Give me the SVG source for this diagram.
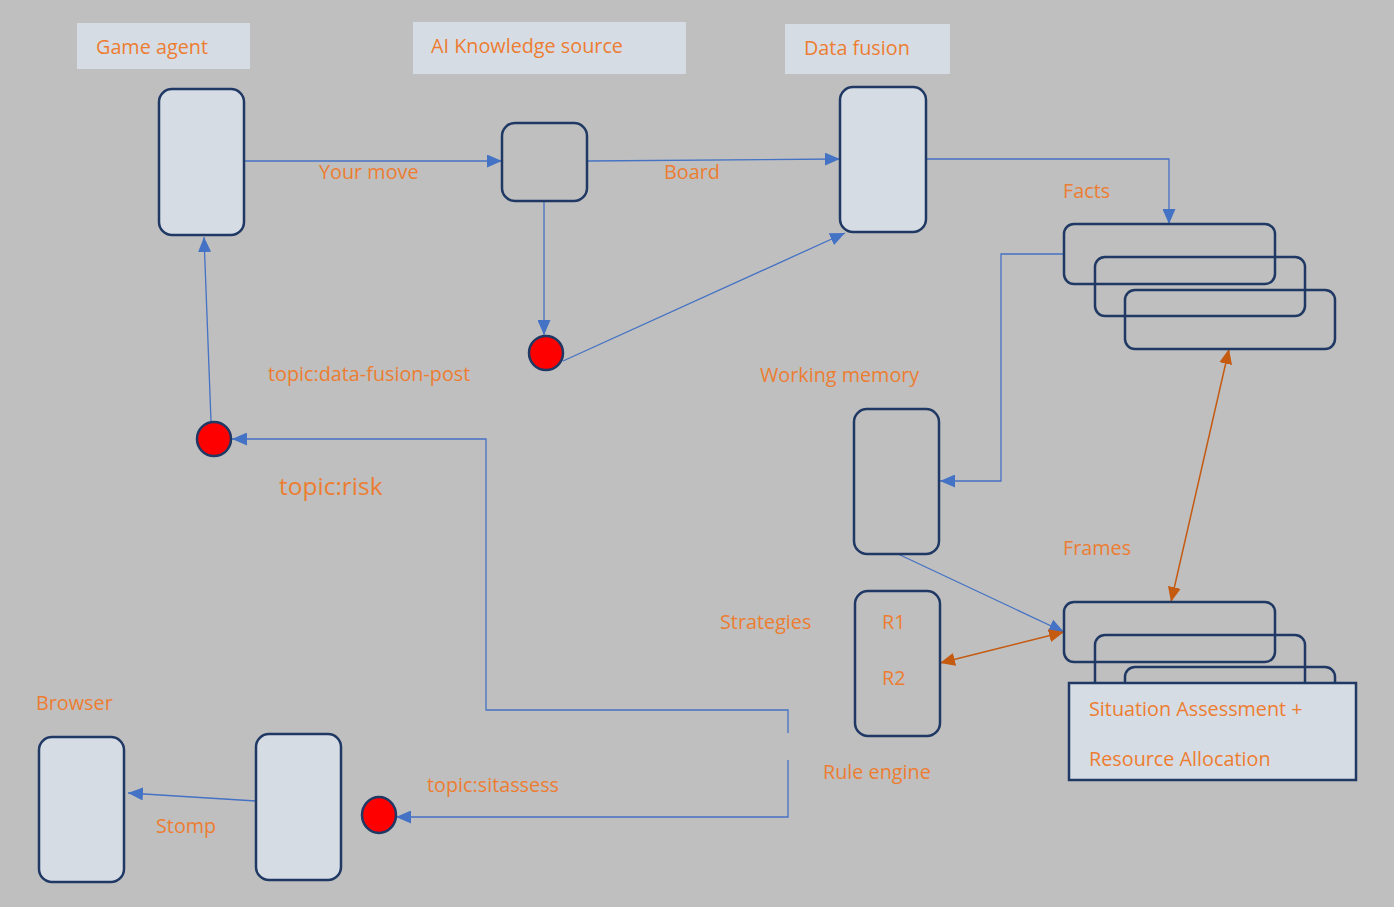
<svg xmlns="http://www.w3.org/2000/svg" width="1394" height="907" viewBox="0 0 1394 907">
<defs>
<style>
.bg{fill:#bfbfbf}
.lbl{fill:#d6dce4}
.node{stroke:#1f3864;stroke-width:2.5;fill:#d6dce4}
.open{stroke:#1f3864;stroke-width:2.5;fill:none}
.dot{stroke:#1f3864;stroke-width:2.5;fill:#ff0000}
.t{font-family:"Open Sans","Noto Sans",sans-serif;font-size:19.8px;fill:#ed7d31}
.c{stroke:#4472c4;stroke-width:1.3;fill:none}
.o{stroke:#c55a11;stroke-width:1.5;fill:none}
</style>
<marker id="ab" viewBox="0 0 15 13" refX="15" refY="6.5" markerWidth="15" markerHeight="13" markerUnits="userSpaceOnUse" orient="auto"><path d="M0,0L15,6.5L0,13z" fill="#4472c4"/></marker>
<marker id="ao" viewBox="0 0 15 13" refX="15" refY="6.5" markerWidth="15" markerHeight="13" markerUnits="userSpaceOnUse" orient="auto-start-reverse"><path d="M0,0L15,6.5L0,13z" fill="#c55a11"/></marker>
</defs>
<rect class="bg" x="0" y="0" width="1394" height="907"/>

<g id="connectors">
<path class="c" d="M244,161H502" marker-end="url(#ab)"/>
<path class="c" d="M587,161L840,159" marker-end="url(#ab)"/>
<path class="c" d="M926,159H1169V224" marker-end="url(#ab)"/>
<path class="c" d="M1064,254H1001V481H940" marker-end="url(#ab)"/>
<path class="c" d="M544,201V335" marker-end="url(#ab)"/>
<path class="c" d="M563,361L845,233" marker-end="url(#ab)"/>
<path class="c" d="M211,421L204,237" marker-end="url(#ab)"/>
<path class="c" d="M898,554L1064,632" marker-end="url(#ab)"/>
<path class="c" d="M788,733V710H486V439H232" marker-end="url(#ab)"/>
<path class="c" d="M788,760V817H396" marker-end="url(#ab)"/>
<path class="c" d="M256,801L128,793" marker-end="url(#ab)"/>
<path class="o" d="M940,663L1064,632" marker-start="url(#ao)" marker-end="url(#ao)"/>
<path class="o" d="M1229,349L1171,602" marker-start="url(#ao)" marker-end="url(#ao)"/>
</g>

<g id="game-agent-label"><rect class="lbl" x="77" y="23" width="173" height="46"/><text class="t" x="96" y="54">Game agent</text></g>
<g id="ai-label"><rect class="lbl" x="413" y="22" width="273" height="52"/><text class="t" x="431" y="53">AI Knowledge source</text></g>
<g id="data-fusion-label"><rect class="lbl" x="785" y="24" width="165" height="50"/><text class="t" x="804" y="55">Data fusion</text></g>

<g id="game-agent"><rect class="node" x="159" y="89" width="85" height="146" rx="13"/></g>
<g id="ai-source"><rect class="open" x="502" y="123" width="85" height="78" rx="13"/></g>
<g id="data-fusion"><rect class="node" x="840" y="87" width="86" height="145" rx="13"/></g>

<g id="facts">
<rect class="open" x="1064" y="224" width="211" height="60" rx="10"/>
<rect class="open" x="1095" y="257" width="210" height="59" rx="10"/>
<rect class="open" x="1125" y="290" width="210" height="59" rx="10"/>
</g>

<g id="working-memory"><rect class="open" x="854" y="409" width="85" height="145" rx="13"/></g>
<g id="rule-engine"><rect class="open" x="855" y="591" width="85" height="145" rx="13"/>
<text class="t" x="882" y="629">R1</text><text class="t" x="882" y="685">R2</text></g>

<g id="frames">
<rect class="open" x="1064" y="602" width="211" height="60" rx="10"/>
<rect class="open" x="1095" y="635" width="210" height="60" rx="10"/>
<rect class="open" x="1125" y="667" width="210" height="40" rx="10"/>
</g>
<g id="situation"><rect class="open" style="fill:#d6dce4" x="1069" y="683" width="287" height="97"/>
<text class="t" x="1089" y="716">Situation Assessment +</text>
<text class="t" x="1089" y="766">Resource Allocation</text></g>

<g id="dot-ai"><circle class="dot" cx="546" cy="353" r="17"/></g>
<g id="dot-risk"><circle class="dot" cx="214" cy="439" r="17"/></g>
<g id="dot-sit"><ellipse class="dot" cx="379" cy="815" rx="17" ry="18"/></g>

<g id="browser"><rect class="node" x="39" y="737" width="85" height="145" rx="13"/></g>
<g id="stomp-node"><rect class="node" x="256" y="734" width="85" height="146" rx="13"/></g>

<g id="labels">
<text class="t" x="319" y="179">Your move</text>
<text class="t" x="664" y="179">Board</text>
<text class="t" x="1063" y="198">Facts</text>
<text class="t" x="268" y="381">topic:data-fusion-post</text>
<text class="t" x="760" y="382">Working memory</text>
<text class="t" x="279" y="495" style="font-size:24.5px">topic:risk</text>
<text class="t" x="1063" y="555">Frames</text>
<text class="t" x="720" y="629">Strategies</text>
<text class="t" x="36" y="710">Browser</text>
<text class="t" x="823" y="779">Rule engine</text>
<text class="t" x="427" y="792">topic:sitassess</text>
<text class="t" x="156" y="833">Stomp</text>
</g>
</svg>
